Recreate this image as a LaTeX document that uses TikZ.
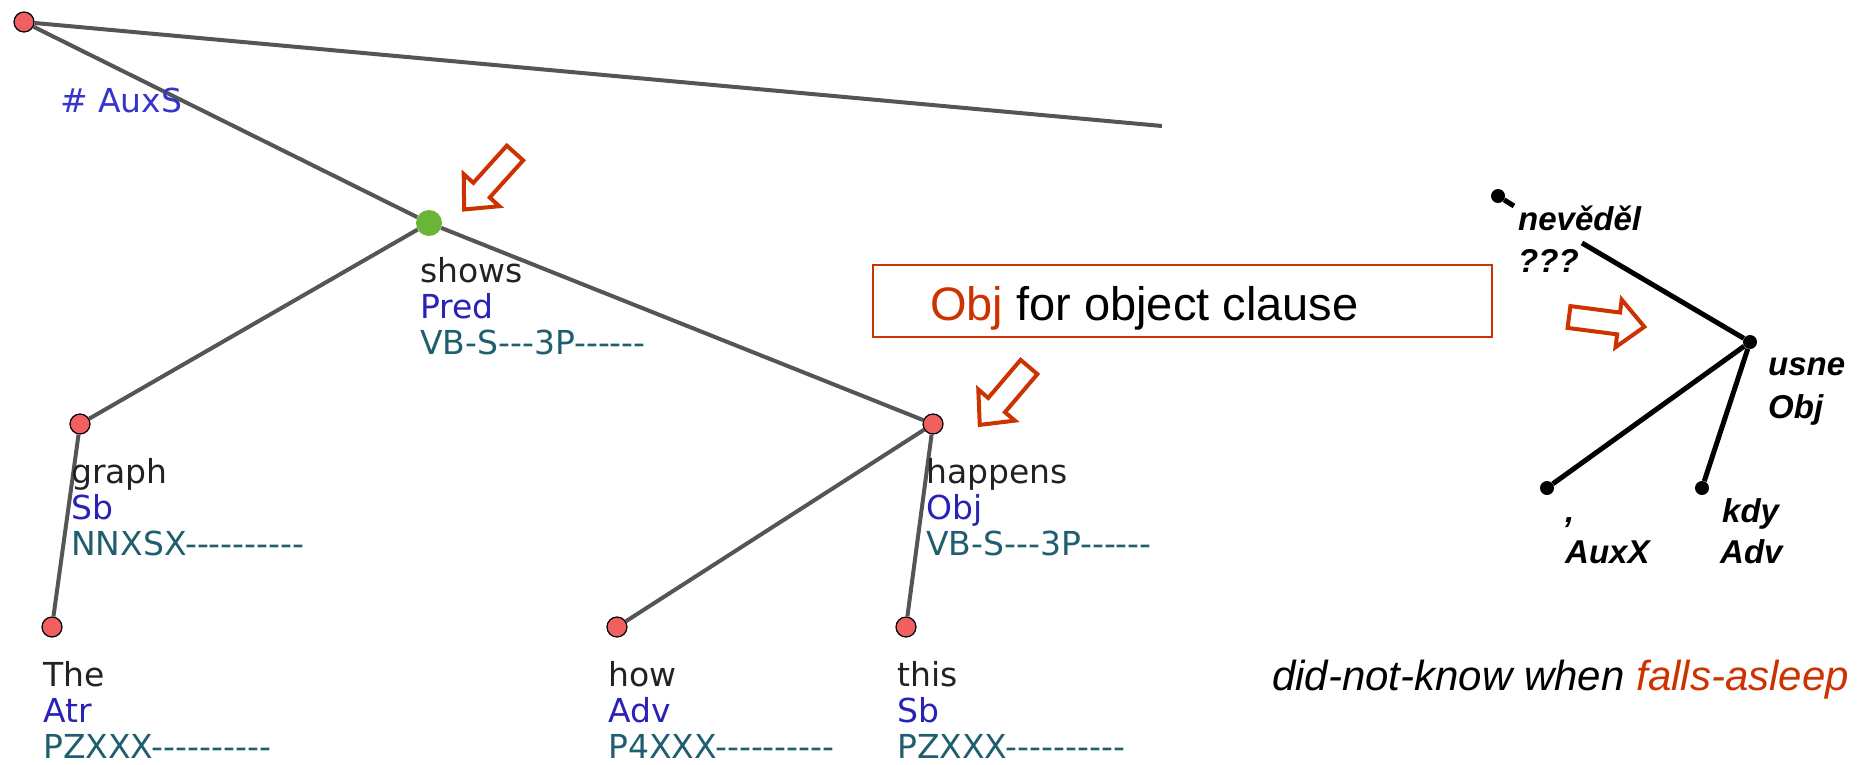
\documentclass[tikz,border=0pt]{standalone}
\usepackage{fontspec}
\newfontfamily\tredfont{DejaVu Sans}
\newfontfamily\arialfont{Liberation Sans}
\definecolor{nodered}{HTML}{F06060}
\definecolor{predgreen}{HTML}{6AB43A}
\definecolor{edgegray}{HTML}{555555}
\definecolor{wordcol}{HTML}{222222}
\definecolor{funccol}{HTML}{2A22B5}
\definecolor{tagcol}{HTML}{1F5E6E}
\definecolor{auxcol}{HTML}{3535CC}
\definecolor{arrred}{HTML}{CC3300}
\tikzset{
  treenode/.style={circle, draw=black, line width=1.2pt, fill=nodered, minimum size=20pt, inner sep=0pt},
  prednode/.style={circle, fill=predgreen, minimum size=26pt, inner sep=0pt},
  treeedge/.style={draw=edgegray, line width=4pt},
  tredtext/.style={anchor=base west, inner sep=0pt, font=\tredfont\fontsize{33}{36}\selectfont},
  wordlab/.style={tredtext, text=wordcol},
  funclab/.style={tredtext, text=funccol},
  taglab/.style={tredtext, text=tagcol},
  blackdot/.style={circle, fill=black, minimum size=14pt, inner sep=0pt},
  blackedge/.style={draw=black, line width=5pt},
  rlab/.style={anchor=base west, inner sep=0pt, font=\arialfont\bfseries\itshape\fontsize{33}{40}\selectfont},
  blockarrow/.style={draw=arrred, line width=4pt, line join=miter, fill=white},
}
\newcommand\tredlabel[6]{%
  \node[wordlab] (#1-w) at (#2-9, #3+59) {#4};
  \node[funclab] (#1-f) at (#2-9, #3+95) {#5};
  \node[taglab]  (#1-t) at (#2-9, #3+131) {#6};
}
\newcommand\redarrow[3]{%
  \draw[blockarrow, shift={(#1,#2)}, rotate=#3]
    (0,-11) -- (50,-11) -- (50,-24) -- (76,0) -- (50,24) -- (50,11) -- (0,11) -- cycle;
}
\begin{document}
\begin{tikzpicture}[x=1pt,y=-1pt]
\useasboundingbox (0,0) rectangle (1872,764);
% ---- left tree nodes
\node[treenode] (root) at (24,22) {};
\coordinate (topend) at (1162,126);
\node[prednode] (shows) at (429,223) {};
\node[treenode] (graph) at (80,424) {};
\node[treenode] (happens) at (933,424) {};
\node[treenode] (the) at (52,627) {};
\node[treenode] (how) at (617,627) {};
\node[treenode] (this) at (906,627) {};
% ---- left tree edges
\draw[treeedge] (root) -- (topend);
\draw[treeedge] (root) -- (shows);
\draw[treeedge] (shows) -- (graph);
\draw[treeedge] (shows) -- (happens);
\draw[treeedge] (graph) -- (the);
\draw[treeedge] (happens) -- (how);
\draw[treeedge] (happens) -- (this);
% ---- labels
\node[tredtext, text=auxcol] (auxs) at (60,112) {\# AuxS};
\tredlabel{shows}{429}{223}{shows}{Pred}{VB-S---3P------}
\tredlabel{graph}{80}{424}{graph}{Sb}{NNXSX----------}
\tredlabel{happens}{935}{424}{happens}{Obj}{VB-S---3P------}
\tredlabel{the}{52}{627}{The}{Atr}{PZXXX----------}
\tredlabel{how}{617}{627}{how}{Adv}{P4XXX----------}
\tredlabel{this}{906}{627}{this}{Sb}{PZXXX----------}
% ---- red block arrows
\redarrow{515}{153}{228}
\redarrow{1029}{367}{229.6}
\redarrow{1569}{317}{-7.4}
% ---- box
\draw[draw=arrred, line width=2pt] (873,265) rectangle (1492,337);
\node[anchor=base west, inner sep=0pt, font=\arialfont\fontsize{47}{52}\selectfont] (boxtext) at (930,320) {\textcolor{arrred}{Obj} for object clause};
% ---- right tree
\node[blackdot] (nev) at (1498,196) {};
\coordinate (nevstub) at (1514,206);
\coordinate (nevtail) at (1582,243);
\node[blackdot] (usne) at (1750,342) {};
\node[blackdot] (auxx) at (1547,488) {};
\node[blackdot] (kdy) at (1702,488) {};
\draw[blackedge] (nev) -- (nevstub);
\draw[blackedge] (usne) -- (nevtail);
\draw[blackedge] (usne) -- (auxx);
\draw[blackedge] (usne) -- (kdy);
\node[rlab] (nev-w) at (1518,230) {nevěděl};
\node[rlab] (nev-f) at (1518,272) {???};
\node[rlab] (usne-w) at (1768,375) {usne};
\node[rlab] (usne-f) at (1768,418) {Obj};
\node[rlab] (auxx-w) at (1565,522) {,};
\node[rlab] (auxx-f) at (1565,563) {AuxX};
\node[rlab] (kdy-w) at (1722,522) {kdy};
\node[rlab] (kdy-f) at (1720,563) {Adv};
% ---- gloss
\node[anchor=base west, inner sep=0pt, font=\arialfont\itshape\fontsize{42}{48}\selectfont] (gloss) at (1272,690) {did-not-know when \textcolor{arrred}{falls-asleep}};
\end{tikzpicture}
\end{document}
